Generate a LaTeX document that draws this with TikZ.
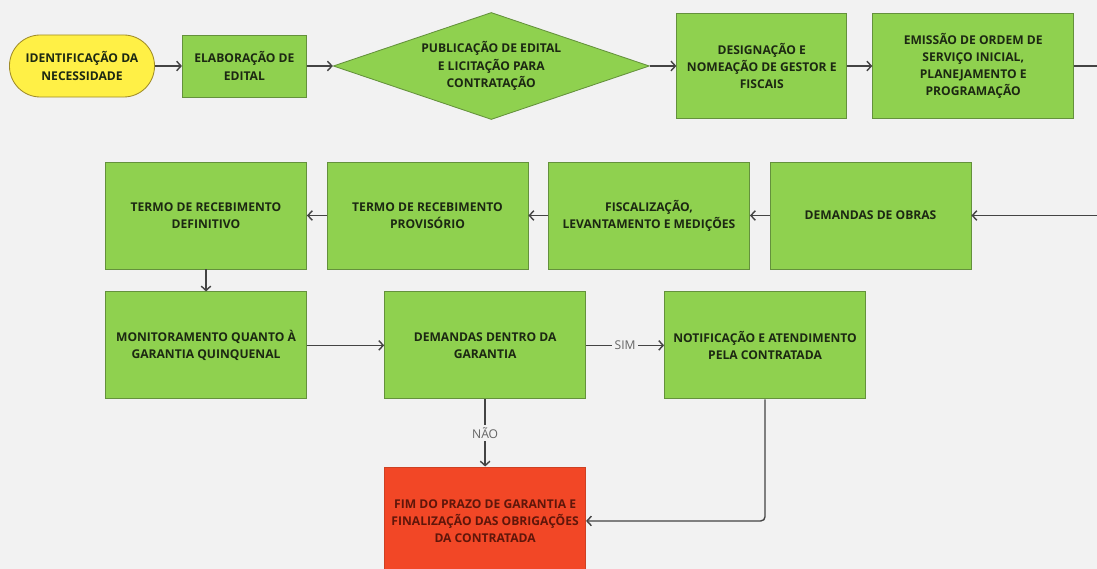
\documentclass[tikz,border=0pt]{standalone}
\usepackage{fontspec}
\setmainfont{Open Sans}
\usetikzlibrary{arrows.meta, positioning, shapes.geometric}
\definecolor{fundo}{RGB}{242,242,242}
\definecolor{verde}{RGB}{143,209,79}
\definecolor{verdeborda}{RGB}{100,145,60}
\definecolor{amarelo}{RGB}{255,240,70}
\definecolor{amareloborda}{RGB}{160,140,40}
\definecolor{vermelho}{RGB}{242,71,38}
\definecolor{vermelhoborda}{RGB}{205,65,35}
\definecolor{textoverde}{RGB}{28,40,18}
\definecolor{textovermelho}{RGB}{95,22,10}
\definecolor{linha}{RGB}{68,68,68}
\definecolor{rotulocor}{RGB}{100,100,100}

\begin{document}
\begin{tikzpicture}[
      x=0.025cm, y=-0.025cm,
      caixa/.style={draw=verdeborda, fill=verde, line width=0.6pt, text=textoverde,
                    font=\bfseries\fontsize{8.6}{12.2}\selectfont, align=center,
                    inner sep=2pt, minimum width=5.025cm, minimum height=2.675cm},
      inicio/.style={caixa, draw=amareloborda, fill=amarelo, rounded corners=0.77cm,
                     minimum width=3.625cm, minimum height=1.55cm},
      decisao/.style={caixa, diamond, inner sep=0pt, aspect=3,
                      minimum width=7.9cm, minimum height=2.675cm},
      fim/.style={caixa, draw=vermelhoborda, fill=vermelho, text=textovermelho,
                  minimum height=2.7cm},
      seta/.style={-{Straight Barb[length=1.1mm, width=2.4mm]}, draw=linha, line width=1pt},
      rotulo/.style={fill=fundo, text=rotulocor, font=\fontsize{8.6}{10}\selectfont, inner sep=2pt}]
    \fill[fundo] (0,0) rectangle (1097,569);
    \clip (0,0) rectangle (1097,569);
    % primeira linha
    \node[inicio] (ident) at (82,66) {IDENTIFICAÇÃO DA\\NECESSIDADE};
    \node[caixa, minimum width=3.1cm, minimum height=1.55cm, right=0.675cm of ident] (elab) {ELABORAÇÃO DE\\EDITAL};
    \node[decisao, right=0.65cm of elab] (edital) {PUBLICAÇÃO  DE EDITAL\\E LICITAÇÃO PARA\\CONTRATAÇÃO};
    \node[caixa, minimum width=4.25cm, minimum height=2.625cm, right=0.665cm of edital] (designacao) {DESIGNAÇÃO E\\NOMEAÇÃO DE GESTOR E\\FISCAIS};
    \node[caixa, minimum height=2.625cm, right=0.625cm of designacao] (emissao) {EMISSÃO DE ORDEM DE\\SERVIÇO INICIAL,\\PLANEJAMENTO E\\PROGRAMAÇÃO};
    \coordinate (saida) at (1097,66);
    % segunda linha
    \coordinate (entrada) at (1097,215.5);
    \node[caixa] (obras) at (870.5,215.5) {DEMANDAS DE OBRAS};
    \node[caixa, left=0.49cm of obras] (fiscal) {FISCALIZAÇÃO,\\LEVANTAMENTO E MEDIÇÕES};
    \node[caixa, left=0.49cm of fiscal] (provisorio) {TERMO DE RECEBIMENTO\\PROVISÓRIO};
    \node[caixa, left=0.49cm of provisorio] (definitivo) {TERMO DE RECEBIMENTO\\DEFINITIVO};
    % terceira linha
    \node[caixa, below=0.55cm of definitivo] (monitor) {MONITORAMENTO QUANTO À\\GARANTIA QUINQUENAL};
    \node[caixa, right=1.93cm of monitor] (dentro) {DEMANDAS DENTRO DA\\GARANTIA};
    \node[caixa, right=1.95cm of dentro] (notif) {NOTIFICAÇÃO E ATENDIMENTO\\PELA CONTRATADA};
    \node[fim, below=1.68cm of dentro] (final) {FIM DO PRAZO DE GARANTIA E\\FINALIZAÇÃO DAS OBRIGAÇÕES\\DA CONTRATADA};
    % conectores
    \draw[seta] (ident) -- (elab);
    \draw[seta] (elab) -- (edital);
    \draw[seta] (edital) -- (designacao);
    \draw[seta] (designacao) -- (emissao);
    \draw[draw=linha, line width=1pt] (emissao) -- (saida);
    \draw[seta] (entrada) -- (obras);
    \draw[seta] (obras) -- (fiscal);
    \draw[seta] (fiscal) -- (provisorio);
    \draw[seta] (provisorio) -- (definitivo);
    \draw[seta] (definitivo) -- (monitor);
    \draw[seta] (monitor) -- (dentro);
    \draw[seta] (dentro) -- node[rotulo] {SIM} (notif);
    \draw[seta] (dentro) -- node[rotulo] {NÃO} (final);
    \draw[seta, rounded corners=3pt] (notif.south) |- (final.east);
  \end{tikzpicture}
\end{document}
